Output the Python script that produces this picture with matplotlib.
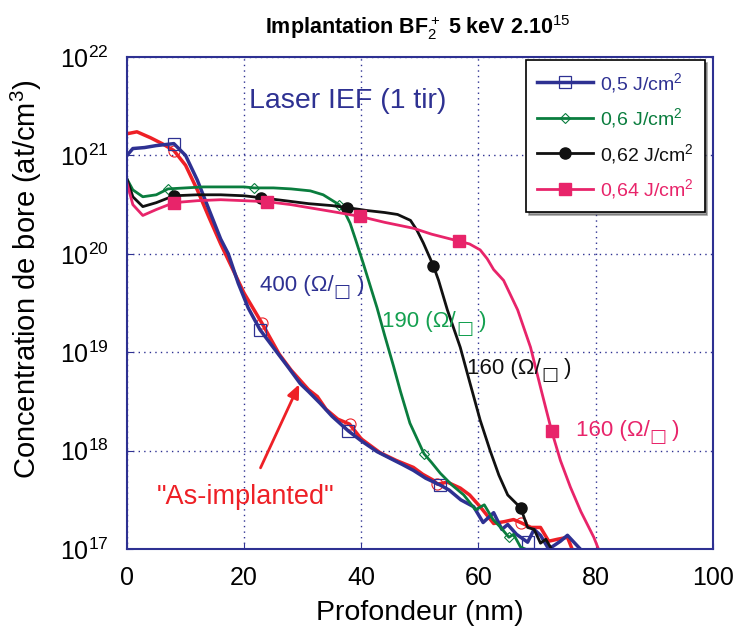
import numpy as np
import matplotlib
matplotlib.use("Agg")
import matplotlib.pyplot as plt

plt.rcParams['font.family'] = ['Liberation Sans', 'DejaVu Sans']
plt.rcParams['mathtext.fontset'] = 'custom'
plt.rcParams['mathtext.rm'] = 'Liberation Sans'
plt.rcParams['mathtext.it'] = 'Liberation Sans:italic'
plt.rcParams['mathtext.bf'] = 'Liberation Sans:bold'

# depth (nm) and log10 of concentration (at/cm3)
x_asimp = [0, 1.7, 4, 6, 8, 10, 12, 14, 16, 18, 20, 21.5, 23, 26, 28, 29.8, 31, 32.5, 34, 36, 38, 40,
           43.2, 46, 48.9, 50.5, 52.3, 53, 54.7, 56.9, 58.5, 60.3, 62.6, 64.5, 66, 67.2, 69, 70.6, 72,
           73.5, 75.2, 76]
y_asimp = [21.22, 21.24, 21.18, 21.12, 21.05, 20.9, 20.65, 20.37, 20.1, 19.85, 19.6, 19.45, 19.3, 18.98,
           18.82, 18.7, 18.62, 18.55, 18.42, 18.32, 18.27, 18.12, 17.98, 17.9, 17.83, 17.76, 17.7, 17.66,
           17.68, 17.62, 17.55, 17.43, 17.26, 17.28, 17.3, 17.27, 17.22, 17.22, 17.08, 17.1, 17.12, 17.0]
m_asimp = [8, 23, 38, 53, 67.2]

x_05 = [0, 1, 3, 5, 8, 10, 12, 14, 16, 17.3, 19, 20.7, 22.7, 25.6, 27.5, 29.6, 31, 33, 35, 37.8, 40,
        42.7, 45, 47, 48.9, 51, 53.5, 55, 57, 59.2, 60.8, 62.6, 64, 65, 66.5, 68.4, 69.5, 70.6, 72, 74,
        75.2, 77.4]
y_05 = [21.0, 21.07, 21.08, 21.1, 21.12, 21.0, 20.75, 20.45, 20.15, 20.0, 19.7, 19.45, 19.23, 19.0,
        18.85, 18.68, 18.6, 18.48, 18.35, 18.2, 18.1, 17.99, 17.92, 17.86, 17.8, 17.72, 17.65, 17.6, 17.5,
        17.43, 17.27, 17.37, 17.2, 17.25, 17.15, 17.07, 17.2, 17.14, 17.0, 17.08, 17.14, 17.0]
m_05 = [8, 22.7, 37.8, 53.5, 68.4]

x_06 = [0, 1, 2.7, 5, 7, 10, 13, 16, 20, 21.7, 25, 28, 31.3, 33.5, 36.2, 37.2, 38.1, 39, 40.3, 41.5,
        42.7, 44, 45.5, 46.7, 48.3, 50.7, 52, 53.5, 55.5, 57.5, 59.5, 61, 62.5, 63.8, 65.2, 66, 67.2, 68]
y_06 = [20.76, 20.65, 20.58, 20.6, 20.66, 20.67, 20.68, 20.68, 20.68, 20.67, 20.67, 20.66, 20.64, 20.6,
        20.5, 20.42, 20.31, 20.15, 19.91, 19.68, 19.45, 19.17, 18.86, 18.6, 18.28, 17.97, 17.88, 17.77,
        17.65, 17.55, 17.4, 17.45, 17.3, 17.22, 17.12, 17.15, 17.02, 17.0]
m_06 = [7, 21.7, 36.2, 50.7, 65.2]

x_062 = [0, 1, 2.7, 5, 8, 12, 16, 20, 22.9, 27, 31, 35, 37.6, 41, 44, 46.2, 48.4, 49.5, 50.6, 52.3,
         53.2, 54.7, 56.9, 58.5, 60.3, 62, 63.5, 65, 67.2, 68.4, 69.5, 70.6, 71.5, 72.5]
y_062 = [20.76, 20.58, 20.48, 20.52, 20.59, 20.6, 20.6, 20.59, 20.57, 20.54, 20.51, 20.49, 20.47, 20.44,
         20.42, 20.4, 20.34, 20.24, 20.11, 19.88, 19.73, 19.43, 19.05, 18.7, 18.31, 18.0, 17.75, 17.55,
         17.42, 17.22, 17.2, 17.06, 17.1, 17.0]
m_062 = [8, 22.9, 37.6, 52.3, 67.2]

x_064 = [0, 1, 2.7, 5, 8, 12, 16, 20, 23.9, 28, 32, 36, 39.8, 44, 48.9, 52, 56.6, 58.5, 60.3, 61.5,
         62.6, 64.3, 66.7, 68.9, 70.7, 72.5, 74, 75.7, 77.5, 79.7, 80.5]
y_064 = [20.72, 20.5, 20.39, 20.45, 20.52, 20.54, 20.55, 20.54, 20.53, 20.5, 20.46, 20.42, 20.38, 20.32,
         20.26, 20.2, 20.13, 20.1, 20.04, 19.95, 19.84, 19.73, 19.43, 19.05, 18.62, 18.2, 17.9, 17.63,
         17.38, 17.12, 17.0]
m_064 = [8, 23.9, 39.8, 56.6, 72.5]

# sheet resistance labels: text, x, log10(y)
rs_labels = ['400', '190', '160', '160']
rs_x = [22.7, 43.6, 58.1, 76.6]
rs_y = [19.68, 19.31, 18.84, 18.21]

blue = '#2e3192'
green = '#0a7d3e'
red = '#ee2026'
pink = '#e8246a'
rs_colors = [blue, '#14a050', '#111111', pink]

fig = plt.figure(figsize=(7.34, 6.37), dpi=100)
ax = fig.add_axes([0.173, 0.138, 0.798, 0.7725])


def mk(xs, ms):
    return [xs.index(v) for v in ms]


ax.plot(x_asimp, 10 ** np.array(y_asimp), color=red, lw=2.5, marker='o', ms=8, mfc='none',
        mec=red, mew=0.8, markevery=mk(x_asimp, m_asimp))
l1, = ax.plot(x_05, 10 ** np.array(y_05), color=blue, lw=2.5, marker='s', ms=8, mfc='none',
              mec=blue, mew=0.9, markevery=mk(x_05, m_05), label='0,5 J/cm$^2$')
l2, = ax.plot(x_06, 10 ** np.array(y_06), color=green, lw=2, marker='D', ms=5.5, mfc='none',
              mec=green, mew=0.8, markevery=mk(x_06, m_06), label='0,6 J/cm$^2$')
l3, = ax.plot(x_062, 10 ** np.array(y_062), color='#111111', lw=2, marker='o', ms=8,
              markevery=mk(x_062, m_062), label='0,62 J/cm$^2$')
l4, = ax.plot(x_064, 10 ** np.array(y_064), color=pink, lw=2, marker='s', ms=8,
              markevery=mk(x_064, m_064), label='0,64 J/cm$^2$')

ax.set_yscale('log')
ax.set_xlim(0, 100)
ax.set_ylim(1e17, 1e22)
ax.set_xticks([0, 20, 40, 60, 80, 100])
ax.set_yticks([1e17, 1e18, 1e19, 1e20, 1e21, 1e22])
ax.set_yticklabels(['10$^{%d}$' % e for e in range(17, 23)])
ax.minorticks_off()
ax.tick_params(labelsize=18, direction='in', color=blue, length=4)
ax.tick_params(axis='x', pad=12)
ax.tick_params(axis='y', pad=13)
ax.grid(True, color=blue, ls=(0, (1, 3)), lw=1)
for s in ax.spines.values():
    s.set_color(blue)
    s.set_linewidth(1.5)

ax.set_xlabel('Profondeur (nm)', fontsize=20.5)
ax.set_ylabel('Concentration de bore (at/cm$^3$)', fontsize=21)
ax.xaxis.set_label_coords(0.5, -0.103)
ax.yaxis.set_label_coords(-0.141, 0.549)
fig.text(0.5695, 0.956, r'Implantation BF$_2^+$ 5 keV 2.10$^{15}$', ha='center', va='center',
         fontsize=15.5, fontweight='bold')

leg = ax.legend(handles=[l1, l2, l3, l4], loc='upper right', bbox_to_anchor=(0.986, 0.994),
                borderaxespad=0, fontsize=14, labelcolor='linecolor', frameon=True, fancybox=False,
                shadow=True, handlelength=2.9, borderpad=0.55, labelspacing=0.6, handletextpad=0.35)
leg.get_frame().set_edgecolor('black')
leg.get_frame().set_linewidth(1.2)

ax.text(37.6, 10 ** 21.55, 'Laser IEF (1 tir)', color=blue, fontsize=20.5, ha='center', va='center')

for lab, lx, ly, c in zip(rs_labels, rs_x, rs_y, rs_colors):
    t1 = ax.text(lx, 10 ** ly, lab + ' (Ω/', color=c, fontsize=16, va='center')
    t2 = ax.annotate('\u25a1', xy=(1, 0), xycoords=t1, xytext=(0, -4), textcoords='offset points',
                     fontsize=13, family='DejaVu Sans', color=c, va='bottom')
    ax.annotate(' )', xy=(1, 0.5), xycoords=(t2, t1), color=c, fontsize=16, va='center')

ax.annotate('', xy=(29.6, 10 ** 18.70), xytext=(22.6, 10 ** 17.80),
            arrowprops=dict(arrowstyle='-|>,head_length=0.8,head_width=0.35', color=red, lw=2))
ax.text(20.2, 10 ** 17.53, '"As-implanted"', color=red, fontsize=19.5, ha='center', va='center')

fig.savefig('out.png', dpi=100)
